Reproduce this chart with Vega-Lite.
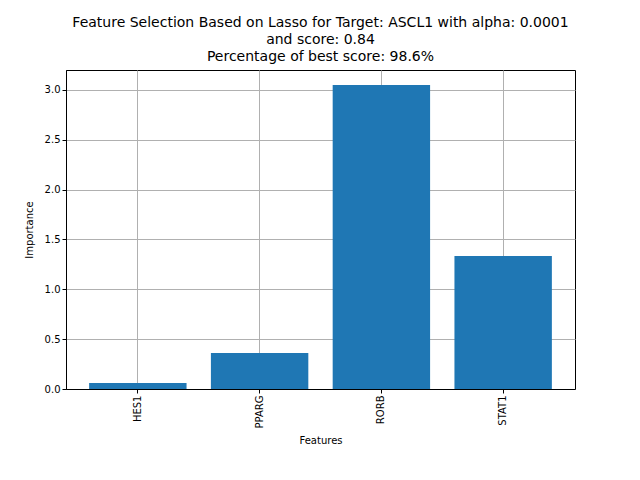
{
  "$schema": "https://vega.github.io/schema/vega-lite/v6.json",
  "width": 509,
  "height": 319,
  "autosize": "none",
  "padding": {"left": 66, "top": 70, "right": 65, "bottom": 91},
  "title": {
    "text": ["Feature Selection Based on Lasso for Target: ASCL1 with alpha: 0.0001", "and score: 0.84", " Percentage of best score: 98.6%"],
    "font": "DejaVu Sans", "fontSize": 14, "fontWeight": "normal", "lineHeight": 17, "offset": 6, "anchor": "middle", "color": "black"
  },
  "data": {"values": [
    {"feature": "HES1", "importance": 0.06},
    {"feature": "PPARG", "importance": 0.36},
    {"feature": "RORB", "importance": 3.05},
    {"feature": "STAT1", "importance": 1.335}
  ]},
  "mark": {"type": "bar", "color": "#1f77b4"},
  "encoding": {
    "x": {"field": "feature", "type": "nominal", "title": "Features",
      "scale": {"paddingInner": 0.2, "paddingOuter": 0.19},
      "axis": {"labelAngle": -90, "grid": true, "bandPosition": 0.5, "titlePadding": 8}},
    "y": {"field": "importance", "type": "quantitative", "title": "Importance",
      "scale": {"domain": [0, 3.2], "nice": false},
      "axis": {"values": [0, 0.5, 1, 1.5, 2, 2.5, 3], "format": ".1f", "grid": true, "titlePadding": 10}}
  },
  "config": {
    "font": "DejaVu Sans",
    "view": {"stroke": "black", "strokeWidth": 1},
    "axis": {"labelFont": "DejaVu Sans", "labelFontSize": 10, "labelColor": "black", "titleFont": "DejaVu Sans", "titleFontSize": 10, "titleFontWeight": "normal", "titleColor": "black", "gridColor": "#b0b0b0", "gridOpacity": 1, "tickColor": "black", "domainColor": "black", "tickSize": 4}
  }
}
